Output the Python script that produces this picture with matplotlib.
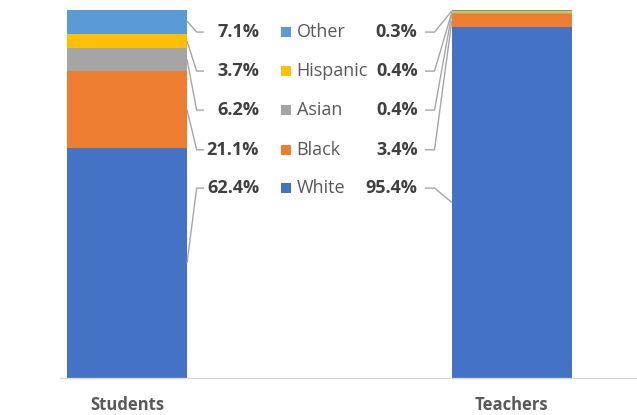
import matplotlib.pyplot as plt
import numpy as np

plt.rcParams['font.family'] = ['Open Sans', 'DejaVu Sans']

groups = ['Students', 'Teachers']
races = ['White', 'Black', 'Asian', 'Hispanic', 'Other']
students = [62.4, 21.1, 6.2, 3.7, 7.1]
teachers = [95.4, 3.4, 0.4, 0.4, 0.3]
colors = ['#4472C4', '#ED7D31', '#A5A5A5', '#FFC000', '#5B9BD5']

W, H = 637, 415
fig = plt.figure(figsize=(W / 100, H / 100), dpi=100)
# axes: baseline at 378px from top, 100% at 10px, x from 60px to 637px
ax = fig.add_axes([60 / W, 37 / H, 577 / W, 368 / H])
ax.set_xlim(-0.174, 1.325)
ax.set_ylim(0, 100)

xs = np.arange(len(groups))
bw = 0.312
data = np.array([students, teachers])
bottoms = np.zeros(len(groups))
for i, race in enumerate(races):
    ax.bar(xs, data[:, i], bw, bottom=bottoms, color=colors[i], linewidth=0)
    bottoms += data[:, i]

# label rows (shared by both groups and the legend)
label_y = [51.6, 62.0, 72.8, 83.4, 94.0]
txtc = '#404040'
linec = '#A6A6A6'

cum_s = np.cumsum([0] + students)
cum_t = np.cumsum([0] + teachers)
edge_s = xs[0] + bw / 2
edge_t = xs[1] - bw / 2
for i in range(len(races)):
    ly = label_y[i]
    # students
    mid = (cum_s[i] + cum_s[i + 1]) / 2
    ax.plot([edge_s, edge_s + 0.025, edge_s + 0.044], [mid, ly, ly],
            color=linec, lw=1, solid_capstyle='butt')
    ax.text(edge_s + 0.187, ly, f'{students[i]}%', ha='right', va='center',
            fontsize=13, fontweight='bold', color=txtc)
    # teachers
    mid = (cum_t[i] + cum_t[i + 1]) / 2
    ax.plot([edge_t, edge_t - 0.045, edge_t - 0.07], [mid, ly, ly],
            color=linec, lw=1, solid_capstyle='butt')
    ax.text(edge_t - 0.089, ly, f'{teachers[i]}%', ha='right', va='center',
            fontsize=13, fontweight='bold', color=txtc)
    # legend entry
    ax.scatter([0.414], [ly], marker='s', s=52, color=colors[i], linewidths=0)
    ax.text(0.441, ly, races[i], ha='left', va='center', fontsize=13,
            color='#595959')

for s in ['top', 'right', 'left']:
    ax.spines[s].set_visible(False)
ax.spines['bottom'].set_color('#D9D9D9')
ax.spines['bottom'].set_linewidth(1)
ax.set_yticks([])
ax.set_xticks(xs)
ax.set_xticklabels(groups, fontsize=12, fontweight='bold', color='#595959')
ax.tick_params(axis='x', length=0, pad=13)

plt.savefig('out.png', dpi=100)
plt.close()
